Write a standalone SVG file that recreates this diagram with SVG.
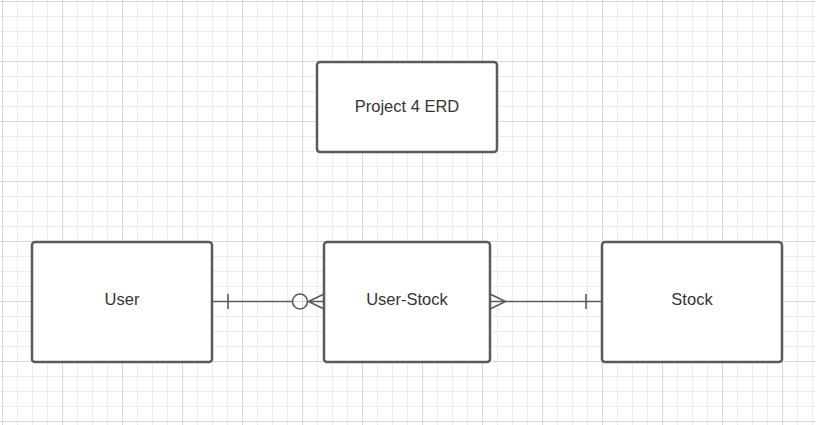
<svg xmlns="http://www.w3.org/2000/svg" width="816" height="425" viewBox="0 0 816 425">
<defs>
<pattern id="minor" x="2" y="1" width="15" height="15" patternUnits="userSpaceOnUse">
<path d="M0.5 0 V15 M0 0.5 H15" stroke="#ebebeb" stroke-width="1" fill="none"/>
</pattern>
<pattern id="major" x="2" y="1" width="60" height="60" patternUnits="userSpaceOnUse">
<path d="M0.5 0 V60 M0 0.5 H60" stroke="#d8d8d8" stroke-width="1" fill="none"/>
</pattern>
<style>
.box{fill:#ffffff;stroke:#5a5a5a;stroke-width:2.5}
.lbl{font-family:"Liberation Sans",Arial,sans-serif;font-size:16.5px;fill:#333333;text-anchor:middle}
.ln{stroke:#5a5a5a;stroke-width:1.6;fill:none}
</style>
</defs>
<rect width="816" height="425" fill="#ffffff"/>
<rect width="816" height="425" fill="url(#minor)"/>
<rect width="816" height="425" fill="url(#major)"/>
<g id="connectors">
<g id="user-userstock">
<path class="ln" d="M212 301.5 H292.5"/>
<path class="ln" d="M228 294 V309"/>
<circle class="ln" cx="300" cy="301.5" r="7.5" fill="#ffffff"/>
<path class="ln" d="M307.5 301.5 H324 M324 294 L308.5 301.5 L324 309"/>
</g>
<g id="userstock-stock">
<path class="ln" d="M490 301.5 H602"/>
<path class="ln" d="M490 294 L505.5 301.5 L490 309"/>
<path class="ln" d="M586 294 V309"/>
</g>
</g>
<g id="title">
<rect class="box" x="317" y="62" width="180" height="90" rx="3"/>
<text class="lbl" x="407" y="112">Project 4 ERD</text>
</g>
<g id="user">
<rect class="box" x="32" y="242" width="180" height="120" rx="3"/>
<text class="lbl" x="122" y="305">User</text>
</g>
<g id="user-stock">
<rect class="box" x="324" y="242" width="166" height="120" rx="3"/>
<text class="lbl" x="407" y="305">User-Stock</text>
</g>
<g id="stock">
<rect class="box" x="602" y="242" width="180" height="120" rx="3"/>
<text class="lbl" x="692" y="305">Stock</text>
</g>
</svg>
